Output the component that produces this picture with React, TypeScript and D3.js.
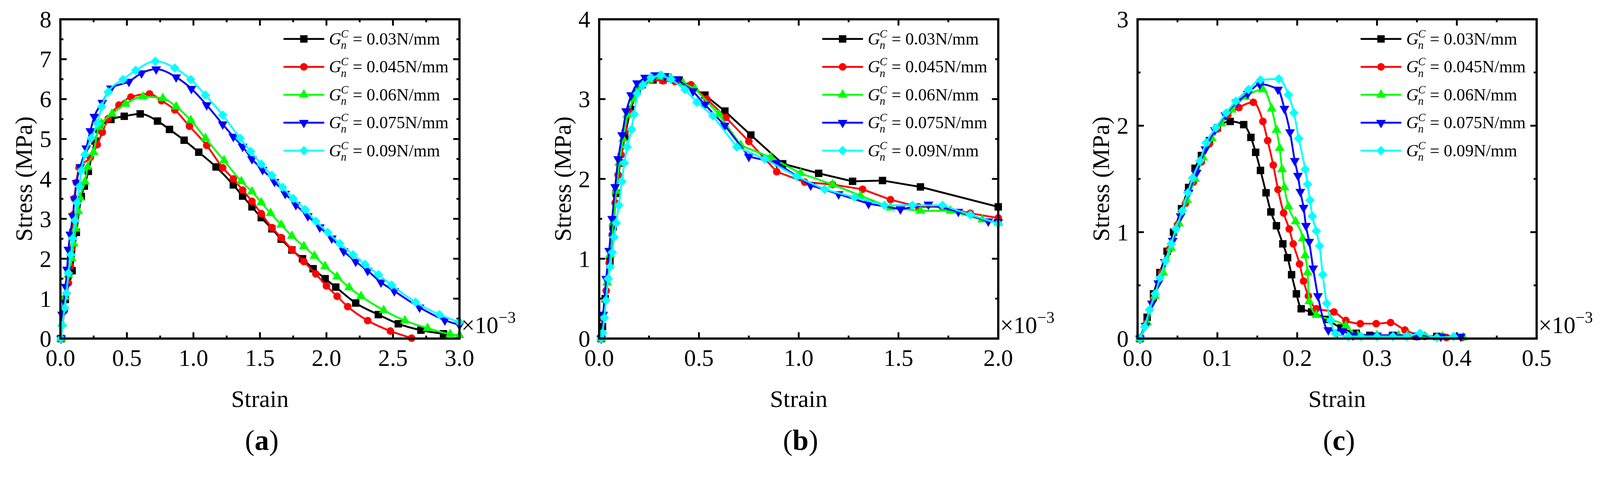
import { useEffect, useRef } from "react"
import * as d3 from "d3"

type Pt = [number, number]

const seriesLabels = ["0.03N/mm", "0.045N/mm", "0.06N/mm", "0.075N/mm", "0.09N/mm"]
const seriesColors = ["#000000", "#ff0000", "#00ff00", "#0000ff", "#00ffff"]
const seriesSymbols = ["square", "circle", "triangle", "triangleDown", "diamond"]

// (a) strain (x10^-3) vs stress (MPa)
const a030: Pt[] = [
  [0.005, 0], [0.037, 0.98], [0.088, 1.7], [0.12, 2.66], [0.157, 3.56], [0.18, 3.82], [0.21, 4.19], [0.26, 4.95],
  [0.29, 5.24], [0.38, 5.49], [0.48, 5.57], [0.6, 5.63], [0.73, 5.45], [0.82, 5.24], [0.93, 4.97], [1.04, 4.67],
  [1.17, 4.3], [1.3, 3.85], [1.37, 3.57], [1.44, 3.3], [1.51, 3.03], [1.59, 2.75], [1.66, 2.49], [1.74, 2.22],
  [1.82, 2.0], [1.9, 1.75], [1.99, 1.5], [2.07, 1.29], [2.22, 0.89], [2.39, 0.6], [2.54, 0.37], [2.71, 0.21], [2.88, 0.12],
]
const a045: Pt[] = [
  [0.005, 0], [0.03, 0.7], [0.06, 1.39], [0.075, 1.82], [0.085, 2.26], [0.092, 2.7], [0.097, 3.1], [0.105, 3.51],
  [0.12, 3.91], [0.14, 4.28], [0.225, 4.54], [0.277, 4.86], [0.315, 5.17], [0.36, 5.51], [0.44, 5.85], [0.53, 6.05],
  [0.67, 6.13], [0.76, 5.96], [0.86, 5.73], [0.97, 5.32], [1.1, 4.84], [1.22, 4.28], [1.3, 4.0], [1.37, 3.72],
  [1.44, 3.44], [1.51, 3.13], [1.59, 2.78], [1.66, 2.53], [1.74, 2.23], [1.83, 1.93], [1.92, 1.62], [2.0, 1.32],
  [2.08, 1.06], [2.16, 0.8], [2.31, 0.45], [2.48, 0.19], [2.64, 0.01],
]
const a060: Pt[] = [
  [0.005, 0], [0.013, 0.37], [0.035, 1.04], [0.06, 1.6], [0.085, 2.0], [0.1, 2.38], [0.115, 2.75], [0.134, 3.19],
  [0.148, 3.53], [0.185, 3.93], [0.205, 4.3], [0.25, 4.67], [0.288, 5.3], [0.307, 5.39], [0.388, 5.63], [0.49, 5.88],
  [0.62, 6.06], [0.77, 6.02], [0.87, 5.81], [0.98, 5.47], [1.09, 5.02], [1.23, 4.46], [1.36, 3.94], [1.44, 3.68],
  [1.51, 3.41], [1.58, 3.14], [1.66, 2.85], [1.74, 2.57], [1.83, 2.31], [1.91, 2.07], [1.99, 1.81], [2.08, 1.55],
  [2.17, 1.28], [2.26, 1.06], [2.43, 0.71], [2.59, 0.45], [2.76, 0.26], [2.93, 0.11], [3.0, 0.08],
]
const a075: Pt[] = [
  [0.005, 0], [0.013, 0.6], [0.04, 1.3], [0.05, 1.73], [0.06, 2.23], [0.074, 2.61], [0.093, 3.07], [0.107, 3.49],
  [0.121, 3.9], [0.149, 4.3], [0.194, 4.77], [0.225, 5.2], [0.255, 5.56], [0.315, 5.91], [0.38, 6.27], [0.515, 6.44],
  [0.61, 6.65], [0.72, 6.75], [0.87, 6.55], [0.985, 6.26], [1.1, 5.85], [1.22, 5.37], [1.3, 5.06], [1.37, 4.81],
  [1.44, 4.5], [1.52, 4.23], [1.61, 3.93], [1.69, 3.63], [1.77, 3.35], [1.86, 3.07], [1.95, 2.79], [2.04, 2.51],
  [2.13, 2.19], [2.22, 1.93], [2.31, 1.7], [2.41, 1.41], [2.51, 1.19], [2.7, 0.78], [2.89, 0.46], [3.0, 0.34],
]
const a090: Pt[] = [
  [0.005, 0], [0.015, 0.33], [0.032, 0.77], [0.046, 1.14], [0.06, 1.64], [0.079, 2.1], [0.093, 2.51], [0.11, 2.96],
  [0.124, 3.4], [0.143, 3.81], [0.157, 4.21], [0.185, 4.61], [0.232, 5.02], [0.277, 5.39], [0.31, 5.81], [0.36, 6.18],
  [0.47, 6.49], [0.566, 6.72], [0.714, 6.95], [0.86, 6.78], [0.98, 6.49], [1.09, 6.1], [1.22, 5.6], [1.35, 5.02],
  [1.43, 4.69], [1.51, 4.37], [1.59, 4.09], [1.67, 3.79], [1.75, 3.51], [1.84, 3.23], [1.92, 2.94], [2.01, 2.66],
  [2.1, 2.38], [2.2, 2.1], [2.29, 1.86], [2.39, 1.6], [2.49, 1.34], [2.67, 0.91], [2.85, 0.6], [3.0, 0.41],
]

// (b)
const b030: Pt[] = [
  [0.01, 0], [0.017, 0.15], [0.03, 0.5], [0.054, 0.97], [0.07, 1.4], [0.085, 1.82], [0.105, 2.2], [0.128, 2.53],
  [0.157, 2.87], [0.19, 3.1], [0.215, 3.18], [0.27, 3.24], [0.32, 3.24], [0.4, 3.24], [0.456, 3.16], [0.53, 3.05],
  [0.63, 2.85], [0.76, 2.55], [0.92, 2.19], [1.1, 2.07], [1.27, 1.97], [1.42, 1.98], [1.61, 1.9], [2.0, 1.65],
]
const b045: Pt[] = [
  [0.01, 0], [0.02, 0.25], [0.035, 0.6], [0.05, 0.95], [0.065, 1.3], [0.08, 1.7], [0.095, 2.05], [0.11, 2.3],
  [0.13, 2.6], [0.15, 2.85], [0.18, 3.05], [0.21, 3.18], [0.26, 3.24], [0.32, 3.23], [0.38, 3.22], [0.46, 3.18],
  [0.54, 3.0], [0.635, 2.77], [0.75, 2.47], [0.89, 2.09], [1.03, 1.96], [1.17, 1.93], [1.32, 1.87], [1.46, 1.74],
  [1.6, 1.65], [1.72, 1.65], [1.86, 1.57], [2.0, 1.51],
]
const b060: Pt[] = [
  [0.01, 0], [0.02, 0.3], [0.04, 0.7], [0.055, 1.05], [0.07, 1.45], [0.085, 1.85], [0.1, 2.2], [0.12, 2.5],
  [0.14, 2.8], [0.17, 3.0], [0.2, 3.15], [0.25, 3.24], [0.3, 3.28], [0.36, 3.26], [0.42, 3.2], [0.48, 3.13],
  [0.6, 2.81], [0.71, 2.42], [0.86, 2.27], [1.01, 2.07], [1.17, 1.93], [1.31, 1.79], [1.46, 1.64], [1.61, 1.6],
  [1.76, 1.6], [1.92, 1.49], [2.0, 1.45],
]
const b075: Pt[] = [
  [0.01, 0], [0.02, 0.3], [0.035, 0.75], [0.05, 1.1], [0.065, 1.5], [0.08, 1.9], [0.095, 2.25], [0.115, 2.55],
  [0.135, 2.85], [0.16, 3.05], [0.19, 3.2], [0.23, 3.27], [0.28, 3.3], [0.33, 3.29], [0.39, 3.25], [0.47, 3.1],
  [0.53, 2.93], [0.63, 2.67], [0.75, 2.28], [0.89, 2.2], [1.06, 1.92], [1.2, 1.81], [1.35, 1.69], [1.51, 1.62],
  [1.65, 1.68], [1.8, 1.59], [1.95, 1.47], [2.0, 1.46],
]
const b090: Pt[] = [
  [0.01, 0], [0.017, 0.07], [0.026, 0.26], [0.034, 0.48], [0.045, 0.75], [0.055, 0.9], [0.065, 1.08], [0.075, 1.27],
  [0.085, 1.45], [0.099, 1.67], [0.114, 1.97], [0.126, 2.2], [0.14, 2.4], [0.162, 2.62], [0.175, 2.81], [0.19, 3.07],
  [0.22, 3.18], [0.26, 3.27], [0.31, 3.3], [0.36, 3.25], [0.43, 3.12], [0.49, 2.96], [0.57, 2.79], [0.69, 2.4],
  [0.83, 2.25], [0.99, 2.03], [1.13, 1.87], [1.28, 1.77], [1.43, 1.67], [1.57, 1.67], [1.72, 1.67], [1.86, 1.55], [2.0, 1.44],
]

// (c)
const c030: Pt[] = [
  [0.003, 0], [0.012, 0.2], [0.02, 0.42], [0.028, 0.62], [0.037, 0.82], [0.045, 1.0], [0.055, 1.22], [0.064, 1.42],
  [0.072, 1.6], [0.08, 1.72], [0.09, 1.86], [0.1, 1.98], [0.116, 2.04], [0.133, 2.01], [0.142, 1.89], [0.148, 1.75],
  [0.154, 1.58], [0.161, 1.37], [0.167, 1.19], [0.174, 1.06], [0.182, 0.89], [0.188, 0.76], [0.193, 0.6], [0.199, 0.42],
  [0.205, 0.28], [0.218, 0.25], [0.237, 0.18], [0.255, 0.1], [0.274, 0.05], [0.291, 0.03], [0.32, 0.03], [0.35, 0.02], [0.375, 0.02],
]
const c045: Pt[] = [
  [0.003, 0], [0.011, 0.14], [0.02, 0.37], [0.03, 0.62], [0.04, 0.84], [0.05, 1.07], [0.06, 1.27], [0.07, 1.47],
  [0.08, 1.66], [0.09, 1.83], [0.1, 1.97], [0.113, 2.1], [0.127, 2.17], [0.145, 2.22], [0.157, 2.04], [0.163, 1.86],
  [0.17, 1.63], [0.176, 1.4], [0.183, 1.18], [0.19, 1.03], [0.195, 0.89], [0.203, 0.7], [0.208, 0.54], [0.214, 0.4],
  [0.224, 0.28], [0.246, 0.25], [0.261, 0.17], [0.279, 0.14], [0.299, 0.14], [0.317, 0.15], [0.335, 0.08], [0.36, 0.02],
  [0.387, 0.01], [0.407, 0.01],
]
const c060: Pt[] = [
  [0.003, 0], [0.012, 0.15], [0.022, 0.4], [0.032, 0.62], [0.042, 0.85], [0.052, 1.08], [0.062, 1.3], [0.072, 1.5],
  [0.082, 1.7], [0.093, 1.88], [0.105, 2.02], [0.118, 2.15], [0.135, 2.27], [0.157, 2.34], [0.168, 2.16], [0.174, 1.96],
  [0.178, 1.79], [0.181, 1.59], [0.184, 1.42], [0.189, 1.24], [0.198, 1.1], [0.207, 0.94], [0.21, 0.78], [0.213, 0.62],
  [0.215, 0.35], [0.224, 0.22], [0.242, 0.18], [0.261, 0.12], [0.276, 0.03], [0.3, 0.03], [0.327, 0.03], [0.338, 0.03],
  [0.36, 0.02], [0.382, 0.02], [0.408, 0.01],
]
const c075: Pt[] = [
  [0.003, 0], [0.01, 0.12], [0.018, 0.33], [0.026, 0.52], [0.034, 0.72], [0.044, 0.92], [0.054, 1.15], [0.064, 1.37],
  [0.074, 1.56], [0.085, 1.78], [0.097, 1.96], [0.11, 2.1], [0.124, 2.22], [0.138, 2.3], [0.153, 2.39], [0.176, 2.34],
  [0.184, 2.16], [0.191, 1.94], [0.197, 1.67], [0.201, 1.53], [0.204, 1.38], [0.208, 1.23], [0.211, 1.06], [0.215, 0.91],
  [0.22, 0.66], [0.226, 0.4], [0.239, 0.08], [0.257, 0.07], [0.27, 0.03], [0.3, 0.03], [0.32, 0.03], [0.35, 0.03],
  [0.38, 0.02], [0.405, 0.02],
]
const c090: Pt[] = [
  [0.003, 0], [0.009, 0.11], [0.015, 0.27], [0.022, 0.42], [0.028, 0.57], [0.035, 0.73], [0.042, 0.89], [0.048, 1.03],
  [0.056, 1.2], [0.063, 1.37], [0.069, 1.51], [0.078, 1.67], [0.086, 1.84], [0.098, 1.98], [0.111, 2.12], [0.123, 2.23],
  [0.139, 2.34], [0.154, 2.43], [0.177, 2.44], [0.189, 2.29], [0.196, 2.12], [0.202, 1.88], [0.21, 1.59], [0.213, 1.45],
  [0.216, 1.3], [0.219, 1.15], [0.224, 1.01], [0.228, 0.87], [0.232, 0.6], [0.237, 0.33], [0.242, 0.17], [0.248, 0.045],
  [0.264, 0.02], [0.28, 0.02], [0.3, 0.02], [0.32, 0.02], [0.337, 0.02], [0.354, 0.05], [0.375, 0.01], [0.396, 0.02],
]

const panelTags = ["a", "b", "c"]
const panelSeries = [
  [a030, a045, a060, a075, a090],
  [b030, b045, b060, b075, b090],
  [c030, c045, c060, c075, c090],
]
const xDomains: Pt[] = [[0, 3], [0, 2], [0, 0.5]]
const yDomains: Pt[] = [[0, 8], [0, 4], [0, 3]]
const xTicksA = [0, 0.5, 1, 1.5, 2, 2.5, 3]
const xTicksB = [0, 0.5, 1, 1.5, 2]
const xTicksC = [0, 0.1, 0.2, 0.3, 0.4, 0.5]
const yTicksA = [0, 1, 2, 3, 4, 5, 6, 7, 8]
const yTicksB = [0, 1, 2, 3, 4]
const yTicksC = [0, 1, 2, 3]
const xTickSets = [xTicksA, xTicksB, xTicksC]
const yTickSets = [yTicksA, yTicksB, yTicksC]

const W = 4318
const H = 1256
const panelLeft = [163, 1617, 3070]
const plotTop = 52
const plotW = 1077
const plotH = 861
const FONT = "'Liberation Serif', 'Times New Roman', serif"

function symbolPath(kind: string): string {
  if (kind === "square") return d3.symbol().type(d3.symbolSquare).size(400)() as string
  if (kind === "circle") return d3.symbol().type(d3.symbolCircle).size(330)() as string
  if (kind === "diamond") return d3.symbol().type(d3.symbolSquare).size(330)() as string
  return d3.symbol().type(d3.symbolTriangle).size(300)() as string
}

function symbolRotate(kind: string): number {
  if (kind === "diamond") return 45
  if (kind === "triangleDown") return 180
  return 0
}

export default function App() {
  const svgRef = useRef<SVGSVGElement>(null)

  useEffect(() => {
    document.body.style.margin = "0"
    document.body.style.overflow = "hidden"
    if (!svgRef.current) return
    const svg = d3.select(svgRef.current)
    svg.selectAll("*").remove()
    svg.append("rect").attr("width", W).attr("height", H).attr("fill", "#fff")

    panelTags.forEach((tag, pi) => {
      const left = panelLeft[pi]
      const right = left + plotW
      const bottom = plotTop + plotH
      const x = d3.scaleLinear().domain(xDomains[pi]).range([left, right])
      const y = d3.scaleLinear().domain(yDomains[pi]).range([bottom, plotTop])
      const g = svg.append("g")

      // ticks point inward on all four sides
      const xt = xTickSets[pi]
      const xStep = xt[1] - xt[0]
      const xMinor = xt.slice(0, -1).map((v) => v + xStep / 2)
      const yt = yTickSets[pi]
      const yMinor = yt.slice(0, -1).map((v) => v + 0.5)
      const tickG = g.append("g").attr("stroke", "#000").attr("stroke-width", 5)
      const xTick = (vals: number[], len: number) =>
        vals.forEach((v) => {
          tickG.append("line").attr("x1", x(v)).attr("x2", x(v)).attr("y1", bottom).attr("y2", bottom - len)
          tickG.append("line").attr("x1", x(v)).attr("x2", x(v)).attr("y1", plotTop).attr("y2", plotTop + len)
        })
      const yTick = (vals: number[], len: number) =>
        vals.forEach((v) => {
          tickG.append("line").attr("y1", y(v)).attr("y2", y(v)).attr("x1", left).attr("x2", left + len)
          tickG.append("line").attr("y1", y(v)).attr("y2", y(v)).attr("x1", right).attr("x2", right - len)
        })
      xTick(xt, 17)
      xTick(xMinor, 8)
      yTick(yt, 17)
      yTick(yMinor, 8)

      // tick labels
      g.selectAll(".xl")
        .data(xt)
        .enter()
        .append("text")
        .attr("x", (d) => x(d))
        .attr("y", bottom + 74)
        .attr("text-anchor", "middle")
        .attr("font-family", FONT)
        .attr("font-size", 64)
        .text((d) => d3.format(".1f")(d))
      g.selectAll(".yl")
        .data(yt)
        .enter()
        .append("text")
        .attr("x", left - 24)
        .attr("y", (d) => y(d) + 22)
        .attr("text-anchor", "end")
        .attr("font-family", FONT)
        .attr("font-size", 64)
        .text((d) => String(d))

      // series
      const curve = pi === 1 ? d3.curveLinear : d3.curveMonotoneX
      panelSeries[pi].forEach((pts, si) => {
        const line = d3
          .line<Pt>()
          .x((d) => x(d[0]))
          .y((d) => y(d[1]))
          .curve(curve)
        g.append("path")
          .attr("d", line(pts))
          .attr("fill", "none")
          .attr("stroke", seriesColors[si])
          .attr("stroke-width", 5)
          .attr("stroke-linejoin", "round")
        const kind = seriesSymbols[si]
        const p = symbolPath(kind)
        g.selectAll(null)
          .data(pts)
          .enter()
          .append("path")
          .attr("d", p)
          .attr("fill", seriesColors[si])
          .attr("transform", (d) => `translate(${x(d[0])},${y(d[1])}) rotate(${symbolRotate(kind)})`)
      })

      // frame
      g.append("rect")
        .attr("x", left)
        .attr("y", plotTop)
        .attr("width", plotW)
        .attr("height", plotH)
        .attr("fill", "none")
        .attr("stroke", "#000")
        .attr("stroke-width", 6)

      // legend
      seriesLabels.forEach((lab, si) => {
        const ly = plotTop + 53 + si * 75.3
        const lx = left + 602
        g.append("line")
          .attr("x1", lx)
          .attr("x2", lx + 110)
          .attr("y1", ly)
          .attr("y2", ly)
          .attr("stroke", seriesColors[si])
          .attr("stroke-width", 5)
        const kind = seriesSymbols[si]
        g.append("path")
          .attr("d", symbolPath(kind))
          .attr("fill", seriesColors[si])
          .attr("transform", `translate(${lx + 55},${ly}) rotate(${symbolRotate(kind)})`)
        const tx = lx + 123
        const base = ly + 15
        g.append("text")
          .attr("x", tx)
          .attr("y", base)
          .attr("font-family", FONT)
          .attr("font-size", 46)
          .attr("font-style", "italic")
          .text("G")
        g.append("text")
          .attr("x", tx + 32)
          .attr("y", base - 19)
          .attr("font-family", FONT)
          .attr("font-size", 30)
          .attr("font-style", "italic")
          .text("C")
        g.append("text")
          .attr("x", tx + 32)
          .attr("y", base + 12)
          .attr("font-family", FONT)
          .attr("font-size", 30)
          .attr("font-style", "italic")
          .text("n")
        g.append("text")
          .attr("x", tx + 64)
          .attr("y", base)
          .attr("font-family", FONT)
          .attr("font-size", 46)
          .text(`= ${lab}`)
      })

      // x10^-3
      const mult = g
        .append("text")
        .attr("x", right + 5)
        .attr("y", bottom - 15)
        .attr("font-family", FONT)
        .attr("font-size", 64)
      mult.append("tspan").text("×10")
      mult.append("tspan").attr("font-size", 44).attr("dy", -27).text("−3")

      // axis titles
      g.append("text")
        .attr("x", (left + right) / 2)
        .attr("y", bottom + 184)
        .attr("text-anchor", "middle")
        .attr("font-family", FONT)
        .attr("font-size", 65)
        .text("Strain")
      g.append("text")
        .attr("transform", `translate(${left - 77},${plotTop + plotH / 2}) rotate(-90)`)
        .attr("text-anchor", "middle")
        .attr("font-family", FONT)
        .attr("font-size", 65)
        .text("Stress (MPa)")

      // panel label
      const pl = g
        .append("text")
        .attr("x", (left + right) / 2 + 5)
        .attr("y", bottom + 300)
        .attr("text-anchor", "middle")
        .attr("font-family", FONT)
        .attr("font-size", 78)
      pl.append("tspan").text("(")
      pl.append("tspan").attr("font-weight", "bold").text(tag)
      pl.append("tspan").text(")")
    })
  }, [])

  return (
    <svg
      ref={svgRef}
      viewBox={`0 0 ${W} ${H}`}
      preserveAspectRatio="xMinYMin meet"
      style={{ position: "fixed", left: 0, top: 0, width: "100vw", height: "100vh", display: "block" }}
    />
  )
}
